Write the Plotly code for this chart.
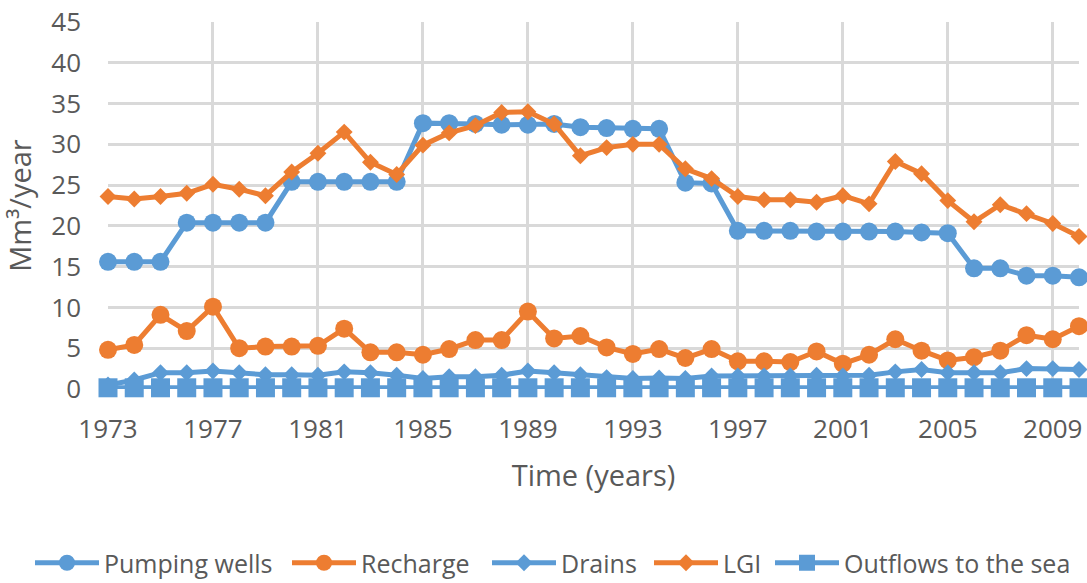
import plotly.graph_objects as go

years = list(range(1973, 2011))
pumping_wells = [15.6, 15.6, 15.6, 20.4, 20.4, 20.4, 20.4, 25.4, 25.4, 25.4, 25.4, 25.4,
                 32.6, 32.6, 32.5, 32.4, 32.4, 32.5, 32.1, 32.0, 31.9, 31.9,
                 25.3, 25.2, 19.4, 19.4, 19.4, 19.3, 19.3, 19.3, 19.3, 19.2, 19.1,
                 14.8, 14.8, 13.9, 13.9, 13.7]
recharge = [4.8, 5.4, 9.1, 7.1, 10.1, 5.0, 5.2, 5.2, 5.3, 7.4, 4.5, 4.5, 4.2, 4.9, 6.0, 6.0, 9.5,
            6.2, 6.5, 5.1, 4.3, 4.9, 3.8, 4.9, 3.4, 3.4, 3.3, 4.6, 3.1, 4.2, 6.1, 4.7, 3.5,
            3.9, 4.7, 6.6, 6.1, 7.7]
drains = [0.5, 1.1, 2.0, 2.0, 2.2, 2.0, 1.75, 1.75, 1.7, 2.1, 2.0, 1.7, 1.3, 1.5, 1.5, 1.7, 2.2,
          2.0, 1.75, 1.4, 1.3, 1.35, 1.3, 1.6, 1.6, 1.6, 1.6, 1.7, 1.6, 1.7, 2.1, 2.4, 2.0,
          2.0, 2.0, 2.5, 2.5, 2.4]
lgi = [23.6, 23.3, 23.6, 24.0, 25.1, 24.5, 23.7, 26.6, 28.9, 31.5, 27.8, 26.3, 29.9, 31.4, 32.3,
       33.9, 34.0, 32.5, 28.6, 29.6, 30.0, 30.0, 27.0, 25.8, 23.6, 23.2, 23.2, 22.9, 23.7,
       22.7, 27.9, 26.4, 23.1, 20.5, 22.6, 21.5, 20.3, 18.7]
outflows = [0.15] * 38

x_ticks = list(range(1973, 2010, 4))
y_ticks = list(range(0, 46, 5))

BLUE = "#5B9BD5"
ORANGE = "#ED7D31"
FONT = "Open Sans"
TXT = "#595959"
GRID = "#D9D9D9"

W, H = 1087, 583

series = [
    ("Pumping wells", pumping_wells, BLUE, "circle", 18, 35),
    ("Recharge", recharge, ORANGE, "circle", 18, 292),
    ("Drains", drains, BLUE, "diamond", 13, 492),
    ("LGI", lgi, ORANGE, "diamond", 13, 654),
    ("Outflows to the sea", outflows, BLUE, "square", 19, 775),
]

fig = go.Figure()
legend_layouts = {}
for i, (name, vals, col, sym, sz, lx) in enumerate(series):
    lname = "legend" if i == 0 else f"legend{i + 1}"
    fig.add_trace(go.Scatter(
        x=years, y=vals, name=name, mode="lines+markers",
        line=dict(color=col, width=5),
        marker=dict(color=col, symbol=sym, size=sz),
        cliponaxis=False, legend=lname,
    ))
    legend_layouts[lname] = dict(
        orientation="h", xref="container", yref="container",
        x=(lx - 5) / W, y=(H - 563) / H,
        xanchor="left", yanchor="middle",
        font=dict(family=FONT, size=25, color=TXT),
        itemwidth=64, bgcolor="rgba(0,0,0,0)",
    )

fig.update_layout(
    width=W, height=H,
    margin=dict(l=108, r=W - 1079, t=22, b=H - 389, autoexpand=False),
    paper_bgcolor="white", plot_bgcolor="white",
    font=dict(family=FONT, color=TXT, size=25),
    showlegend=True,
    **legend_layouts,
)
fig.update_xaxes(
    range=[1973, 2010], tickmode="array", tickvals=x_ticks,
    ticktext=[str(v) for v in x_ticks],
    showgrid=True, gridcolor=GRID, gridwidth=2.5,
    showline=False, zeroline=False, ticks="", automargin=False,
    ticklabelstandoff=22, ticklabeloverflow="allow",
    tickfont=dict(family=FONT, size=26, color=TXT),
    title=dict(text="Time (years)", font=dict(family=FONT, size=29, color=TXT), standoff=20),
)
fig.update_yaxes(
    range=[0, 45], tickmode="array", tickvals=y_ticks,
    showgrid=True, gridcolor=GRID, gridwidth=2.5,
    showline=False, zeroline=False, ticks="", automargin=False,
    ticklabelstandoff=26, ticklabeloverflow="allow",
    tickfont=dict(family=FONT, size=26, color=TXT),
    title=dict(text="Mm³/year", font=dict(family=FONT, size=29, color=TXT), standoff=20),
)

fig.write_html(
    "out.html",
    config={"displayModeBar": False},
    post_script="document.body.style.margin='0';document.body.style.overflow='hidden';",
)
